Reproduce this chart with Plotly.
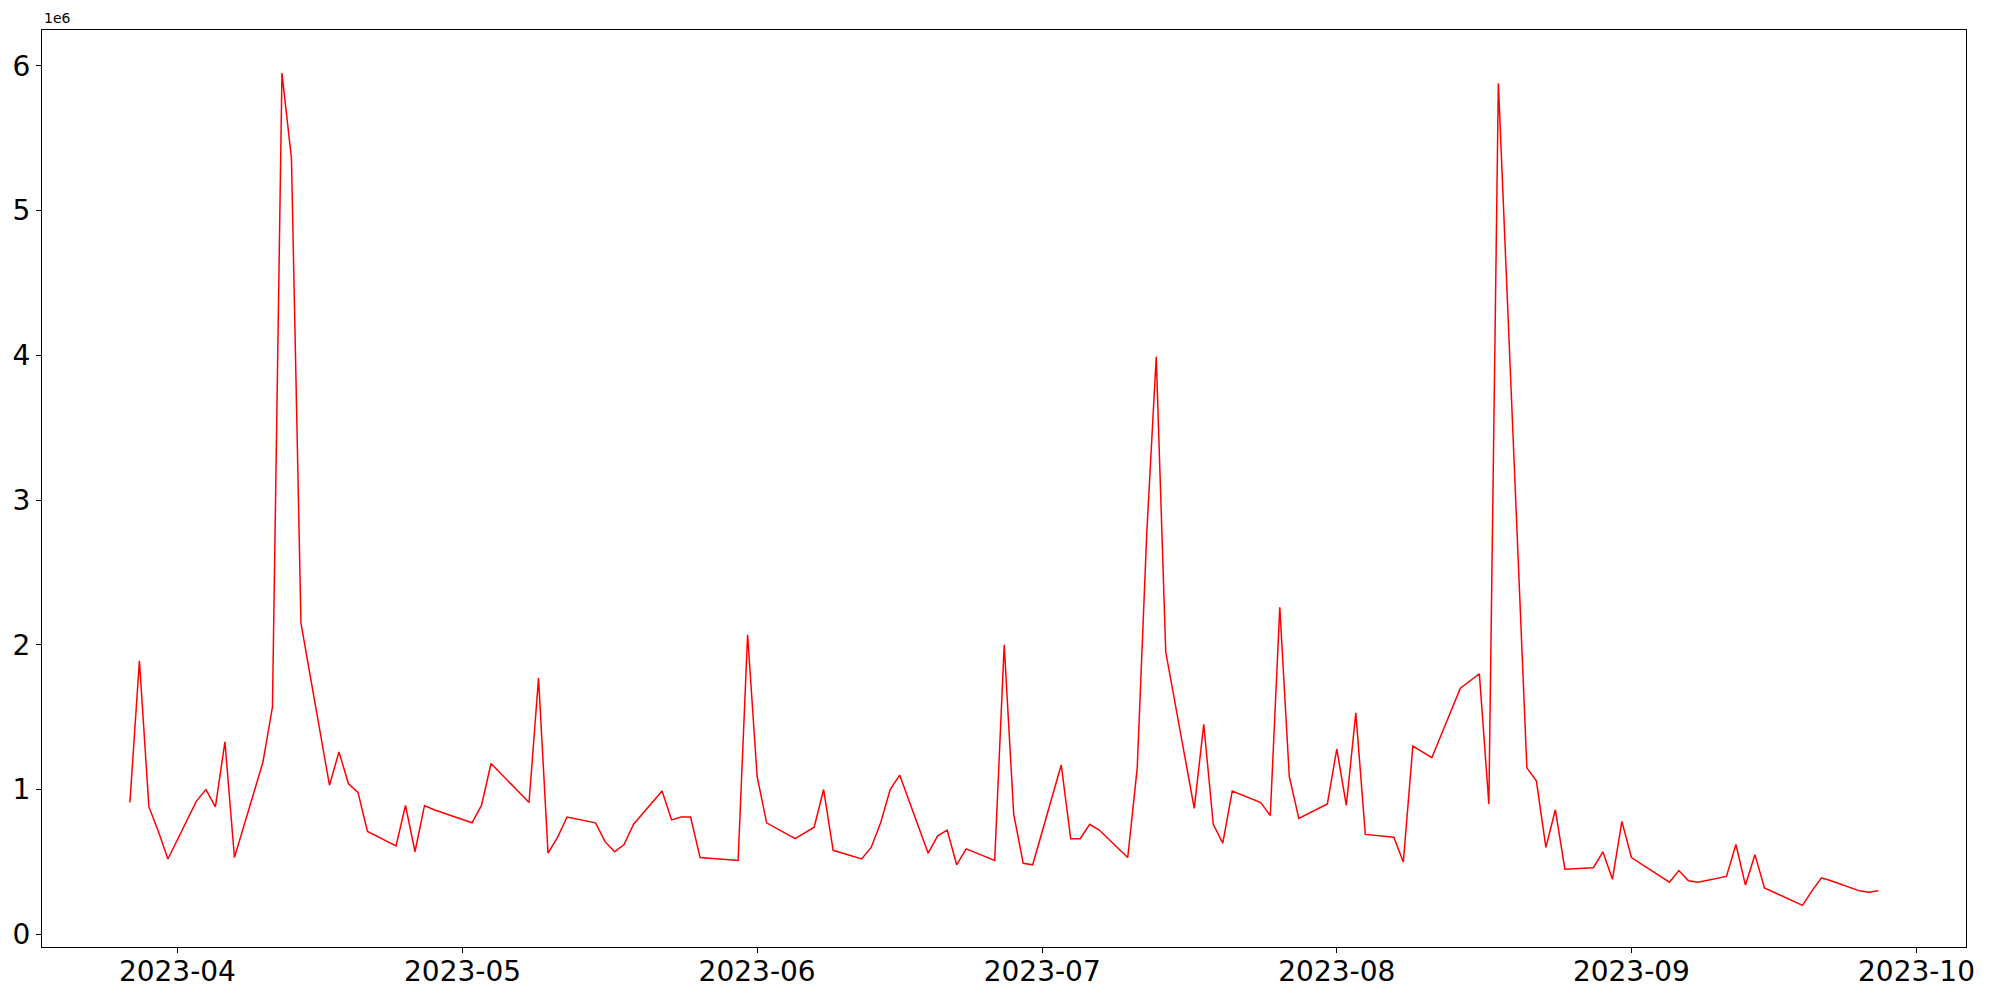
import plotly.graph_objects as go

dates = [
    "2023-03-27", "2023-03-28", "2023-03-29", "2023-03-30", "2023-03-31",
    "2023-04-03", "2023-04-04", "2023-04-05", "2023-04-06", "2023-04-07",
    "2023-04-10", "2023-04-11", "2023-04-12", "2023-04-13", "2023-04-14",
    "2023-04-17", "2023-04-18", "2023-04-19", "2023-04-20", "2023-04-21",
    "2023-04-24", "2023-04-25", "2023-04-26", "2023-04-27", "2023-04-28",
    "2023-05-02", "2023-05-03", "2023-05-04", "2023-05-08",
    "2023-05-09", "2023-05-10", "2023-05-11", "2023-05-12",
    "2023-05-15", "2023-05-16", "2023-05-17", "2023-05-18", "2023-05-19",
    "2023-05-22", "2023-05-23", "2023-05-24", "2023-05-25", "2023-05-26",
    "2023-05-30", "2023-05-31", "2023-06-01", "2023-06-02",
    "2023-06-05", "2023-06-07", "2023-06-08", "2023-06-09",
    "2023-06-12", "2023-06-13", "2023-06-14", "2023-06-15", "2023-06-16",
    "2023-06-19", "2023-06-20", "2023-06-21", "2023-06-22", "2023-06-23",
    "2023-06-26", "2023-06-27", "2023-06-28", "2023-06-29", "2023-06-30",
    "2023-07-03", "2023-07-04", "2023-07-05", "2023-07-06", "2023-07-07",
    "2023-07-10", "2023-07-11", "2023-07-12", "2023-07-13", "2023-07-14",
    "2023-07-17", "2023-07-18", "2023-07-19", "2023-07-20", "2023-07-21",
    "2023-07-24", "2023-07-25", "2023-07-26", "2023-07-27", "2023-07-28",
    "2023-07-31", "2023-08-01", "2023-08-02", "2023-08-03", "2023-08-04",
    "2023-08-07", "2023-08-08", "2023-08-09", "2023-08-11",
    "2023-08-14", "2023-08-16", "2023-08-17", "2023-08-18",
    "2023-08-21", "2023-08-22", "2023-08-23", "2023-08-24", "2023-08-25",
    "2023-08-28", "2023-08-29", "2023-08-30", "2023-08-31", "2023-09-01",
    "2023-09-05", "2023-09-06", "2023-09-07", "2023-09-08",
    "2023-09-11", "2023-09-12", "2023-09-13", "2023-09-14", "2023-09-15",
    "2023-09-19", "2023-09-20", "2023-09-21", "2023-09-22",
    "2023-09-25", "2023-09-26", "2023-09-27",
]

volume = [
    910000, 1890000, 880000, 710000, 520000,
    920000, 1000000, 880000, 1330000, 530000,
    1190000, 1570000, 5950000, 5360000, 2150000,
    1030000, 1260000, 1040000, 980000, 710000,
    610000, 890000, 570000, 890000, 860000,
    770000, 890000, 1180000, 910000,
    1770000, 560000, 670000, 810000,
    770000, 640000, 570000, 620000, 760000,
    990000, 790000, 810000, 810000, 530000,
    510000, 2070000, 1090000, 770000,
    660000, 740000, 1000000, 580000,
    520000, 600000, 770000, 1000000, 1100000,
    560000, 680000, 720000, 480000, 590000,
    510000, 2000000, 830000, 490000, 480000,
    1170000, 660000, 660000, 760000, 720000,
    530000, 1150000, 2770000, 3990000, 1950000,
    870000, 1450000, 760000, 630000, 990000,
    910000, 820000, 2260000, 1090000, 800000,
    900000, 1280000, 890000, 1530000, 690000,
    670000, 500000, 1300000, 1220000,
    1700000, 1800000, 900000, 5880000,
    1150000, 1060000, 600000, 860000, 450000,
    460000, 570000, 380000, 780000, 530000,
    360000, 440000, 370000, 360000,
    400000, 620000, 340000, 550000, 320000,
    200000, 300000, 390000, 370000,
    300000, 290000, 300000,
]

x_tick_vals = ["2023-04-01", "2023-05-01", "2023-06-01", "2023-07-01",
               "2023-08-01", "2023-09-01", "2023-10-01"]
x_tick_text = ["2023-04", "2023-05", "2023-06", "2023-07",
               "2023-08", "2023-09", "2023-10"]
y_tick_vals = [0, 1e6, 2e6, 3e6, 4e6, 5e6, 6e6]
y_tick_text = ["0", "1", "2", "3", "4", "5", "6"]

fig = go.Figure()
fig.add_trace(go.Scatter(
    x=dates, y=volume, mode="lines",
    line=dict(color="red", width=1.5),
    showlegend=False,
))

font = "DejaVu Sans"
fig.update_layout(
    width=2000, height=1000,
    margin=dict(l=42, r=34, t=30, b=53),
    paper_bgcolor="white", plot_bgcolor="white",
    font=dict(family=font, color="black"),
    xaxis=dict(
        type="date",
        range=["2023-03-17 18:00", "2023-10-06 05:00"],
        tickmode="array", tickvals=x_tick_vals, ticktext=x_tick_text,
        ticks="outside", ticklen=5, tickwidth=1.1, tickcolor="black",
        tickfont=dict(family=font, size=28, color="black"),
        ticklabelstandoff=-6,
        showline=True, linecolor="black", linewidth=1.1, mirror=True,
        showgrid=False, zeroline=False, automargin=False,
    ),
    yaxis=dict(
        range=[-88000, 6248000],
        tickmode="array", tickvals=y_tick_vals, ticktext=y_tick_text,
        ticks="outside", ticklen=5, tickwidth=1.1, tickcolor="black",
        tickfont=dict(family=font, size=28, color="black"),
        showline=True, linecolor="black", linewidth=1.1, mirror=True,
        showgrid=False, zeroline=False, automargin=False,
    ),
    annotations=[dict(
        text="1e6", x=0, y=1, xref="paper", yref="paper",
        xanchor="left", yanchor="bottom", showarrow=False, yshift=2,
        font=dict(family=font, size=14, color="black"),
    )],
)

fig.write_html(
    "out.html",
    config={"displayModeBar": False},
    post_script="document.body.style.margin='0';document.body.style.overflow='hidden';",
)
